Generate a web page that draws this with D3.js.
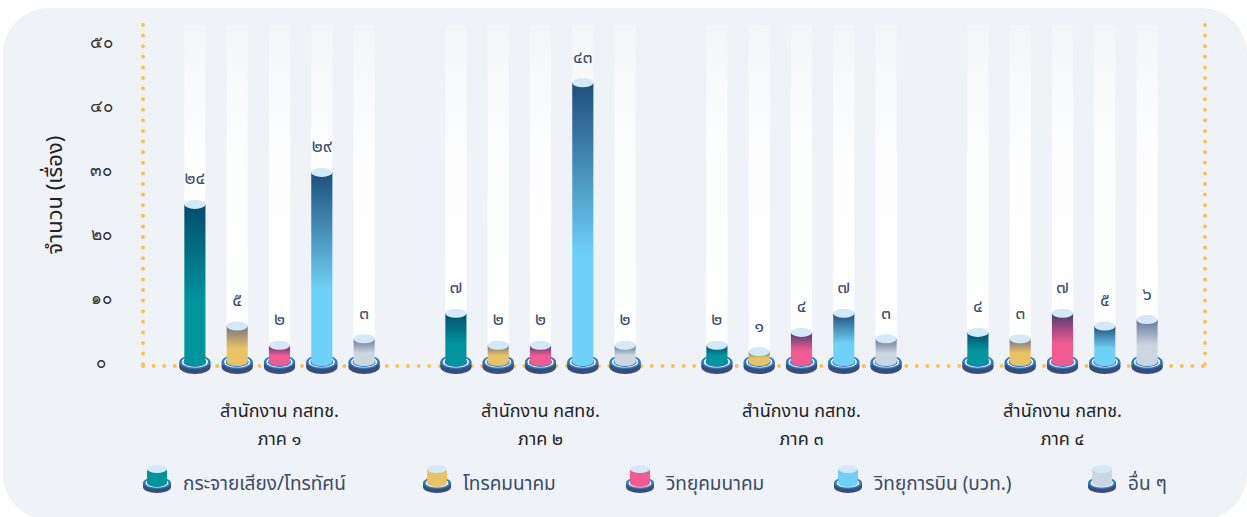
<!DOCTYPE html>
<html>
<head>
<meta charset="utf-8">
<script src="https://cdn.jsdelivr.net/npm/d3@7"></script>
<style>
  body { margin: 0; background: #ffffff; }
  svg { display: block; font-family: "Noto Sans Thai", "Noto Sans", "Tahoma", sans-serif; }
</style>
</head>
<body>
<svg id="chart" width="1247" height="517"></svg>
<script>
// chart data
const offices = ["ภาค ๑", "ภาค ๒", "ภาค ๓", "ภาค ๔"];
const seriesNames = ["กระจายเสียง/โทรทัศน์", "โทรคมนาคม", "วิทยุคมนาคม", "วิทยุการบิน (บวท.)", "อื่น ๆ"];
const broadcast = [24, 7, 2, 4];
const telecom = [5, 2, 1, 3];
const radiocomm = [2, 2, 4, 7];
const aviation = [29, 43, 7, 5];
const others = [3, 2, 3, 6];
const yTicks = [0, 10, 20, 30, 40, 50];

// colours: [top, bottom]
const colors = [
  ["#044c6c", "#00959c"],
  ["#77717e", "#e8c466"],
  ["#4b3c6c", "#f05b92"],
  ["#1d4f7b", "#6fd1f7"],
  ["#67779a", "#cbd7e0"]
];

const thaiDigits = "๐๑๒๓๔๕๖๗๘๙";
function thai(n) {
  return String(n).replace(/[0-9]/g, function (c) { return thaiDigits[+c]; });
}

const allSeries = [broadcast, telecom, radiocomm, aviation, others];
const data = [];
offices.forEach(function (o, i) {
  seriesNames.forEach(function (s, j) {
    data.push({ office: o, series: s, idx: j, value: allSeries[j][i] });
  });
});

const svg = d3.select("#chart");

// card background
svg.append("rect")
  .attr("x", 3).attr("y", 8)
  .attr("width", 1244).attr("height", 512)
  .attr("rx", 46)
  .attr("fill", "#eff3f7");

const defs = svg.append("defs");
colors.forEach(function (c, i) {
  const g = defs.append("linearGradient")
    .attr("id", "grad" + i)
    .attr("x1", 0).attr("y1", 0).attr("x2", 0).attr("y2", 1);
  g.append("stop").attr("offset", "0%").attr("stop-color", c[0]);
  g.append("stop").attr("offset", "62%").attr("stop-color", c[1]);
  g.append("stop").attr("offset", "100%").attr("stop-color", c[1]);
});
const bgGrad = defs.append("linearGradient")
  .attr("id", "bgcol").attr("x1", 0).attr("y1", 0).attr("x2", 0).attr("y2", 1);
bgGrad.append("stop").attr("offset", "0%").attr("stop-color", "#f3f6f9");
bgGrad.append("stop").attr("offset", "40%").attr("stop-color", "#fdfdfe");
bgGrad.append("stop").attr("offset", "100%").attr("stop-color", "#ffffff");

// scales
const x0 = d3.scaleBand().domain(offices).range([149, 1193]).padding(0);
const x1 = d3.scaleBand().domain(seriesNames).range([0, x0.bandwidth()])
  .paddingInner(0.5).paddingOuter(0.835);
const y = d3.scaleLinear().domain([0, 50]).range([362, 42]);

const plotLeft = 143, plotRight = 1205, plotTop = 25, plotBottom = 366;

// dotted frame
const dots = svg.append("g")
  .attr("stroke", "#fbc24b")
  .attr("stroke-width", 4)
  .attr("stroke-linecap", "round")
  .attr("stroke-dasharray", "0 10.6")
  .attr("fill", "none");
dots.append("line").attr("x1", plotLeft).attr("x2", plotLeft).attr("y1", plotTop).attr("y2", plotBottom);
dots.append("line").attr("x1", plotRight).attr("x2", plotRight).attr("y1", plotTop).attr("y2", plotBottom);
dots.append("line").attr("x1", plotLeft).attr("x2", plotRight).attr("y1", plotBottom).attr("y2", plotBottom);

// y axis
const yAxis = svg.append("g")
  .attr("transform", "translate(" + plotLeft + ",0)")
  .call(d3.axisLeft(y).tickValues(yTicks).tickSize(0).tickFormat(thai));
yAxis.select(".domain").remove();
yAxis.selectAll("text")
  .attr("x", -42)
  .attr("text-anchor", "middle")
  .attr("fill", "#333")
  .style("font-size", "17px")
  .style("font-weight", "300")
  .style("font-family", "inherit");

svg.append("text")
  .attr("transform", "translate(62," + 195 + ") rotate(-90)")
  .attr("text-anchor", "middle")
  .attr("fill", "#222")
  .style("font-size", "22px")
  .text("จำนวน (เรื่อง)");

const bw = x1.bandwidth();
const ry = 5;

// background columns
svg.append("g").selectAll("rect")
  .data(data)
  .enter().append("rect")
  .attr("x", function (d) { return x0(d.office) + x1(d.series); })
  .attr("y", plotTop)
  .attr("width", bw)
  .attr("height", y(0) - plotTop)
  .attr("fill", "url(#bgcol)");

// base + cylinder
function drawCylinder(g, cx, topY, baseY, w, idx) {
  const r = w / 2;
  const br = r + 5;
  // base disc
  g.append("rect").attr("x", cx - br).attr("y", baseY).attr("width", br * 2).attr("height", 5).attr("fill", "#3a4d78");
  g.append("ellipse").attr("cx", cx).attr("cy", baseY + 5).attr("rx", br).attr("ry", ry + 2).attr("fill", "#3a4d78");
  g.append("ellipse").attr("cx", cx).attr("cy", baseY).attr("rx", br).attr("ry", ry + 2).attr("fill", "#2d7bc2");
  g.append("ellipse").attr("cx", cx).attr("cy", baseY).attr("rx", br - 2.5).attr("ry", ry + 0.6).attr("fill", "#ffffff");
  g.append("ellipse").attr("cx", cx).attr("cy", baseY).attr("rx", br - 4).attr("ry", ry).attr("fill", "#2d7bc2");
  // body
  g.append("rect").attr("x", cx - r).attr("y", topY).attr("width", w).attr("height", Math.max(0, baseY - topY))
    .attr("fill", "url(#grad" + idx + ")");
  g.append("ellipse").attr("cx", cx).attr("cy", baseY).attr("rx", r).attr("ry", ry - 1)
    .attr("fill", colors[idx][1]);
  // top cap
  g.append("ellipse").attr("cx", cx).attr("cy", topY).attr("rx", r).attr("ry", ry - 0.5)
    .attr("fill", "#d3e9f8");
}

const bars = svg.append("g");
data.forEach(function (d) {
  const cx = x0(d.office) + x1(d.series) + bw / 2;
  const g = bars.append("g");
  drawCylinder(g, cx, y(d.value) - 4, y(0), bw, d.idx);
  bars.append("text")
    .attr("x", cx)
    .attr("y", y(d.value) - 24)
    .attr("text-anchor", "middle")
    .attr("fill", "#3d4d6b")
    .style("font-size", "18px")
    .style("font-weight", "400")
    .text(thai(d.value));
});

// category labels
const cats = svg.append("g");
offices.forEach(function (o) {
  const cx = x0(o) + x0.bandwidth() / 2;
  cats.append("text").attr("x", cx).attr("y", 417).attr("text-anchor", "middle")
    .attr("fill", "#222").style("font-size", "18px").text("สำนักงาน กสทช.");
  cats.append("text").attr("x", cx).attr("y", 445).attr("text-anchor", "middle")
    .attr("fill", "#222").style("font-size", "18px").text(o);
});

// legend
const legendX = [157, 437, 640, 848, 1102];
const legend = svg.append("g");
seriesNames.forEach(function (s, i) {
  const g = legend.append("g");
  const cx = legendX[i];
  const by = 483;
  g.append("ellipse").attr("cx", cx).attr("cy", by + 4).attr("rx", 14).attr("ry", 6).attr("fill", "#3a4d78");
  g.append("rect").attr("x", cx - 14).attr("y", by).attr("width", 28).attr("height", 4).attr("fill", "#3a4d78");
  g.append("ellipse").attr("cx", cx).attr("cy", by).attr("rx", 14).attr("ry", 6).attr("fill", "#2d7bc2");
  g.append("ellipse").attr("cx", cx).attr("cy", by).attr("rx", 11.5).attr("ry", 4.6).attr("fill", "#ffffff");
  g.append("rect").attr("x", cx - 10).attr("y", by - 14).attr("width", 20).attr("height", 14).attr("fill", colors[i][1]);
  g.append("ellipse").attr("cx", cx).attr("cy", by).attr("rx", 10).attr("ry", 4).attr("fill", colors[i][1]);
  g.append("ellipse").attr("cx", cx).attr("cy", by - 14).attr("rx", 10).attr("ry", 4).attr("fill", "#d3e9f8");
  g.append("text").attr("x", cx + 26).attr("y", 490)
    .attr("fill", "#3c4a66").style("font-size", "19px").text(s);
});
</script>
</body>
</html>
